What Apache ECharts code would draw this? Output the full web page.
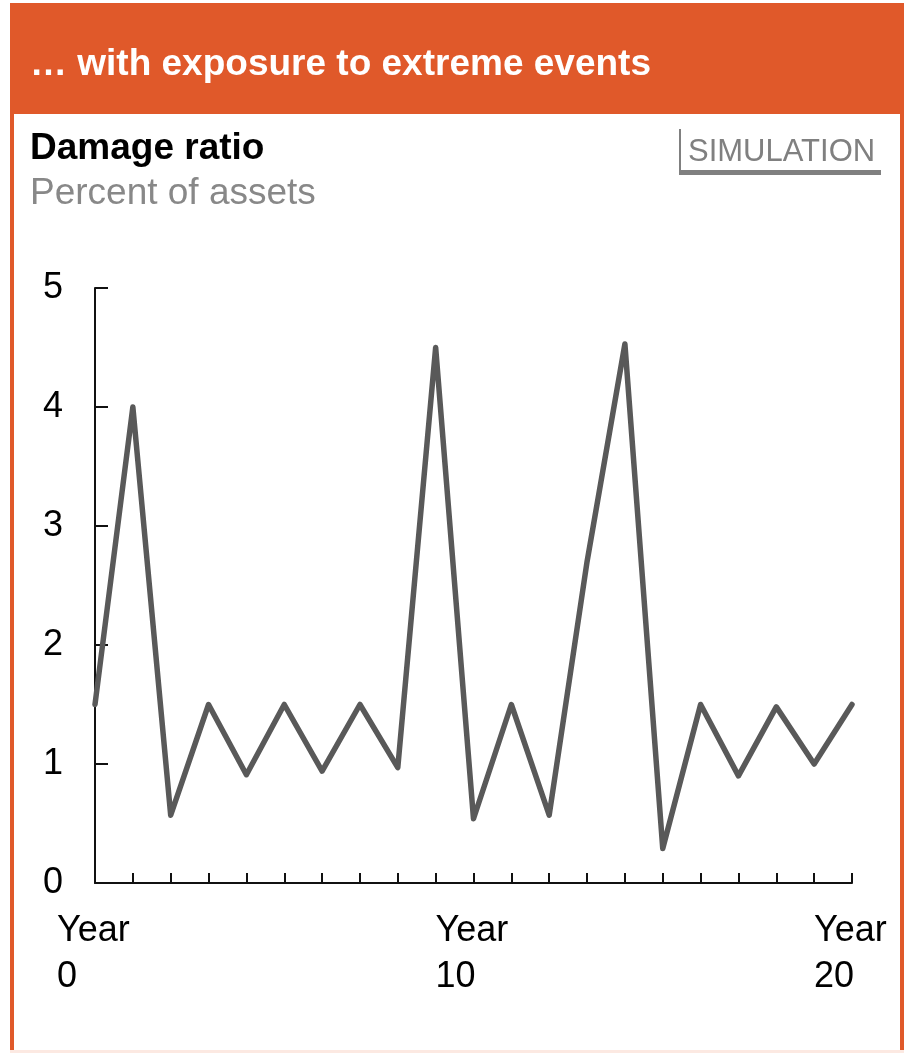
<!DOCTYPE html>
<html>
<head>
<meta charset="utf-8">
<script src="https://cdn.jsdelivr.net/npm/echarts@6/dist/echarts.min.js"></script>
<style>
  html, body { margin: 0; padding: 0; background: #fff; }
  #chart { width: 904px; height: 1053px; }
</style>
</head>
<body>
<div id="chart"></div>
<script>
// years 0..20 and the simulated damage ratio (percent of assets)
var years = [0, 1, 2, 3, 4, 5, 6, 7, 8, 9, 10, 11, 12, 13, 14, 15, 16, 17, 18, 19, 20];
var damage = [1.5, 4.0, 0.57, 1.5, 0.91, 1.5, 0.94, 1.5, 0.97, 4.5, 0.54, 1.5, 0.57, 2.7, 4.53, 0.29, 1.5, 0.9, 1.48, 1.0, 1.5];
var labelledYears = [0, 10, 20];

var orange = '#E0592A';
var font = '"Liberation Sans", Arial, sans-serif';

var chart = echarts.init(document.getElementById('chart'));

chart.setOption({
    animation: false,
    backgroundColor: '#fff',
    graphic: [
        // frame and header band
        { type: 'rect', shape: { x: 10, y: 3, width: 894, height: 111 }, style: { fill: orange }, silent: true },
        { type: 'rect', shape: { x: 10, y: 3, width: 4, height: 1047 }, style: { fill: orange }, silent: true },
        { type: 'rect', shape: { x: 900, y: 3, width: 4, height: 1047 }, style: { fill: orange }, silent: true },
        { type: 'rect', shape: { x: 10, y: 1050, width: 894, height: 3 }, style: { fill: '#FCE9E2' }, silent: true },
        {
            type: 'text', left: 30, top: 46,
            style: { text: '\u2026 with exposure to extreme events', fill: '#fff', font: 'bold 37px ' + font }
        },
        {
            type: 'text', left: 30, top: 130,
            style: { text: 'Damage ratio', fill: '#000', font: 'bold 37px ' + font }
        },
        {
            type: 'text', left: 30, top: 175,
            style: { text: 'Percent of assets', fill: '#888', font: '37px ' + font }
        },
        // simulation tag
        {
            type: 'text', left: 688, top: 137,
            style: { text: 'SIMULATION', fill: '#808080', font: '31px ' + font }
        },
        { type: 'rect', shape: { x: 679, y: 129, width: 2, height: 46 }, style: { fill: '#808080' }, silent: true },
        { type: 'rect', shape: { x: 679, y: 170, width: 202, height: 5 }, style: { fill: '#808080' }, silent: true }
    ],
    grid: { left: 95, right: 52, top: 288, bottom: 170, containLabel: false },
    xAxis: {
        type: 'value',
        min: 0,
        max: 20,
        interval: 1,
        splitLine: { show: false },
        axisLine: { show: true, lineStyle: { color: '#111', width: 2 } },
        axisTick: { show: true, inside: true, length: 10, lineStyle: { color: '#111', width: 2 } },
        axisLabel: {
            margin: 25,
            formatter: function (v) {
                if (labelledYears.indexOf(v) < 0) return '';
                return '{a|Year}\n{a|' + v + '}';
            },
            rich: {
                a: { width: 76, align: 'left', fontSize: 36, lineHeight: 46, color: '#000', fontFamily: font }
            }
        }
    },
    yAxis: {
        type: 'value',
        min: 0,
        max: 5,
        interval: 1,
        splitLine: { show: false },
        axisLine: { show: true, lineStyle: { color: '#111', width: 2 } },
        axisTick: { show: true, inside: true, length: 13, lineStyle: { color: '#111', width: 2 } },
        axisLabel: { margin: 32, fontSize: 36, color: '#000', fontFamily: font }
    },
    series: [{
        type: 'line',
        data: years.map(function (y, i) { return [y, damage[i]]; }),
        showSymbol: false,
        lineStyle: { color: '#595959', width: 5.5, cap: 'round', join: 'round' }
    }]
});

window.addEventListener('resize', function () {
    chart.resize();
});
</script>
</body>
</html>
